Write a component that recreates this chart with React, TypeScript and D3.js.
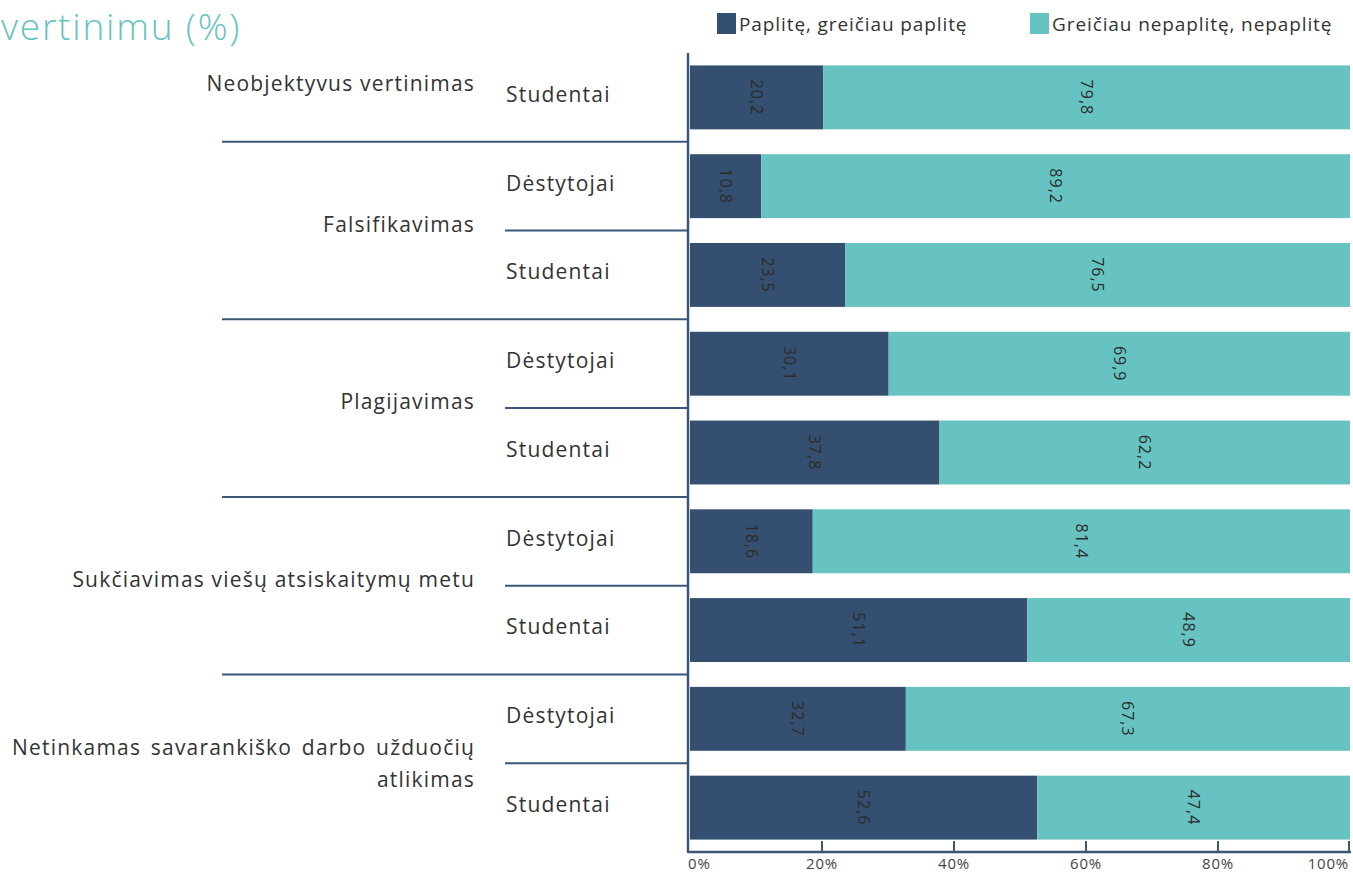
import React, { useEffect, useRef } from "react";
import * as d3 from "d3";

// categories, top to bottom
const groups = [
  "Neobjektyvus vertinimas",
  "Falsifikavimas",
  "Plagijavimas",
  "Sukčiavimas viešų atsiskaitymų metu",
  "Netinkamas savarankiško darbo užduočių atlikimas",
];
const groupRows = [["Studentai"], ["Dėstytojai", "Studentai"], ["Dėstytojai", "Studentai"], ["Dėstytojai", "Studentai"], ["Dėstytojai", "Studentai"]];
const spread = [20.2, 10.8, 23.5, 30.1, 37.8, 18.6, 51.1, 32.7, 52.6];
const notSpread = [79.8, 89.2, 76.5, 69.9, 62.2, 81.4, 48.9, 67.3, 47.4];
const seriesNames = ["Paplitę, greičiau paplitę", "Greičiau nepaplitę, nepaplitę"];
const xTicks = [0, 20, 40, 60, 80, 100];

const DARK = "#344f70";
const TEAL = "#66c3c1";
const LINE = "#3b5679";
const FONT = "'Open Sans', sans-serif";

export default function App() {
  const ref = useRef<SVGSVGElement>(null);

  useEffect(() => {
    const svg = d3.select(ref.current);
    svg.selectAll("*").remove();

    const left = 688, right = 1350, top = 53, bottom = 852;

    // build rows
    const rows: { key: string; group: number; sub: string; a: number; b: number }[] = [];
    let k = 0;
    groupRows.forEach((subs, gi) => {
      subs.forEach((s) => {
        rows.push({ key: gi + "-" + s, group: gi, sub: s, a: spread[k], b: notSpread[k] });
        k++;
      });
    });

    const x = d3.scaleLinear().domain([0, 100]).range([left + 2, right]);
    const y = d3.scaleBand().domain(rows.map((r) => r.key)).range([top, bottom]).paddingInner(0.28).paddingOuter(0.14);

    // title (tail of a longer title)
    svg.append("text")
      .attr("x", 1).attr("y", 40)
      .attr("font-family", FONT).attr("font-size", 37).attr("font-weight", 300)
      .attr("letter-spacing", 1.8)
      .attr("fill", TEAL)
      .text("vertinimu (%)");

    // legend
    const leg = svg.append("g").attr("font-family", FONT).attr("font-size", 19).attr("letter-spacing", 0.9).attr("fill", "#333");
    [[717, DARK, seriesNames[0]], [1030, TEAL, seriesNames[1]]].forEach(([lx, c, t]) => {
      leg.append("rect").attr("x", +lx).attr("y", 13).attr("width", 19).attr("height", 21).attr("fill", c as string);
      leg.append("text").attr("x", +lx + 22).attr("y", 31).attr("fill", "#333").text(t as string);
    });

    // bars
    const g = svg.append("g");
    g.selectAll("rect.a").data(rows).join("rect")
      .attr("x", x(0)).attr("y", (d) => y(d.key)!)
      .attr("width", (d) => x(d.a) - x(0)).attr("height", y.bandwidth())
      .attr("fill", DARK);
    g.selectAll("rect.b").data(rows).join("rect")
      .attr("x", (d) => x(d.a)).attr("y", (d) => y(d.key)!)
      .attr("width", (d) => x(d.a + d.b) - x(d.a)).attr("height", y.bandwidth())
      .attr("fill", TEAL);

    const fmt = (v: number) => v.toFixed(1).replace(".", ",");
    const labels = svg.append("g").attr("font-family", FONT).attr("font-size", 16).attr("letter-spacing", 1).attr("fill", "#2b2b2b");
    rows.forEach((r) => {
      const cy = y(r.key)! + y.bandwidth() / 2;
      [[x(r.a / 2), r.a], [x(r.a + r.b / 2), r.b]].forEach(([cx, v]) => {
        labels.append("text")
          .attr("transform", `translate(${cx},${cy}) rotate(90)`)
          .attr("text-anchor", "middle").attr("dy", "0.35em")
          .text(fmt(v));
      });
    });

    // sub labels
    svg.append("g").attr("font-family", FONT).attr("font-size", 21).attr("letter-spacing", 1.2).attr("fill", "#333")
      .selectAll("text").data(rows).join("text")
      .attr("x", 506).attr("y", (d) => y(d.key)! + y.bandwidth() / 2 - 3)
      .attr("dy", "0.35em")
      .text((d) => d.sub);

    // group labels and separators
    const step = y.step();
    const gl = svg.append("g").attr("font-family", FONT).attr("font-size", 21).attr("letter-spacing", 1.2).attr("fill", "#333").attr("text-anchor", "end");
    groups.forEach((name, gi) => {
      const gr = rows.filter((r) => r.group === gi);
      const y0 = y(gr[0].key)! - (step - y.bandwidth()) / 2;
      const y1 = y(gr[gr.length - 1].key)! + y.bandwidth() + (step - y.bandwidth()) / 2;
      const cy = gr.length === 1 ? y(gr[0].key)! + y.bandwidth() / 2 - 14 : (y0 + y1) / 2 - 6;
      if (gi === 4) {
        gl.append("text").attr("x", 475).attr("y", cy - 10).attr("dy", "0.35em").attr("word-spacing", 3).text("Netinkamas savarankiško darbo užduočių");
        gl.append("text").attr("x", 475).attr("y", cy + 22).attr("dy", "0.35em").text("atlikimas");
      } else {
        gl.append("text").attr("x", 475).attr("y", cy).attr("dy", "0.35em").text(name);
      }
      if (gi > 0) {
        svg.append("line").attr("x1", 222).attr("x2", left).attr("y1", y0).attr("y2", y0)
          .attr("stroke", LINE).attr("stroke-width", 2);
      }
      if (gr.length === 2) {
        const ym = y(gr[1].key)! - (step - y.bandwidth()) / 2;
        svg.append("line").attr("x1", 505).attr("x2", left).attr("y1", ym).attr("y2", ym)
          .attr("stroke", LINE).attr("stroke-width", 2);
      }
    });

    // x axis
    svg.append("line").attr("x1", left).attr("x2", left).attr("y1", top).attr("y2", bottom + 1)
      .attr("stroke", LINE).attr("stroke-width", 2.5);
    svg.append("line").attr("x1", left).attr("x2", right + 1).attr("y1", bottom).attr("y2", bottom)
      .attr("stroke", LINE).attr("stroke-width", 2.5);
    const ax = svg.append("g");
    xTicks.forEach((t) => {
      const tx = t === 0 ? left : x(t) - (t === 100 ? 1 : 0);
      ax.append("line").attr("x1", tx).attr("x2", tx).attr("y1", bottom - 11).attr("y2", bottom)
        .attr("stroke", LINE).attr("stroke-width", 2);
      ax.append("text").attr("x", tx).attr("y", bottom + 17)
        .attr("text-anchor", t === 0 ? "start" : t === 100 ? "end" : "middle")
        .attr("font-family", FONT).attr("font-size", 15).attr("letter-spacing", 0.8).attr("fill", "#444")
        .text(t + "%");
    });
  }, []);

  return (
    <svg ref={ref} width={1353} height={875} style={{ position: "absolute", left: 0, top: 0, background: "#fff" }} />
  );
}
